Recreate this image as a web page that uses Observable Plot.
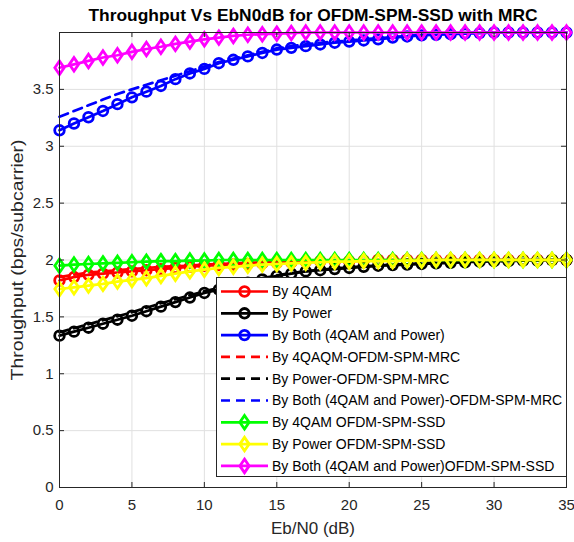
<!DOCTYPE html>
<html><head><meta charset="utf-8">
<script src="https://cdn.jsdelivr.net/npm/d3@7"></script>
<script src="https://cdn.jsdelivr.net/npm/@observablehq/plot@0.6"></script>
<style>
body{margin:0;background:#fff;}
#wrap{position:relative;width:574px;height:542px;font-family:"Liberation Sans",Arial,sans-serif;}
#legend{position:absolute;left:216px;top:277px;width:351px;height:200px;background:#fff;border:1px solid #262626;box-sizing:border-box;}
</style></head><body><div id="wrap"></div>
<script>
const ebn0 = [0,1,2,3,4,5,6,7,8,9,10,11,12,13,14,15,16,17,18,19,20,21,22,23,24,25,26,27,28,29,30,31,32,33,34,35];

const by4qam = [1.82,1.85,1.87,1.88,1.89,1.90,1.91,1.92,1.93,1.94,1.95,1.955,1.96,1.965,1.97,1.975,1.98,1.985,1.99,1.99,1.99,1.995,2,2,2,2,2,2,2,2,2,2,2,2,2,2];
const byPower = [1.335,1.37,1.405,1.44,1.475,1.51,1.55,1.59,1.63,1.67,1.71,1.74,1.77,1.80,1.83,1.86,1.88,1.90,1.91,1.92,1.93,1.94,1.95,1.955,1.96,1.965,1.97,1.975,1.98,1.985,1.99,1.99,1.995,1.995,2,2];
const byBoth = [3.14,3.20,3.255,3.31,3.37,3.43,3.48,3.53,3.59,3.64,3.68,3.73,3.76,3.79,3.82,3.85,3.865,3.88,3.895,3.91,3.92,3.93,3.94,3.955,3.965,3.975,3.98,3.985,3.99,3.995,4,4,4,4,4,4];
const by4qamMrc = [1.85,1.87,1.89,1.90,1.91,1.92,1.93,1.94,1.945,1.95,1.96,1.965,1.97,1.975,1.98,1.985,1.99,1.99,1.995,2,2,2,2,2,2,2,2,2,2,2,2,2,2,2,2,2];
const byPowerMrc = [1.365,1.40,1.435,1.47,1.505,1.54,1.58,1.62,1.655,1.69,1.725,1.755,1.785,1.815,1.84,1.865,1.885,1.90,1.915,1.925,1.935,1.945,1.95,1.96,1.965,1.97,1.975,1.98,1.985,1.99,1.99,1.995,2,2,2,2];
const byBothMrc = [3.26,3.31,3.36,3.41,3.46,3.50,3.54,3.58,3.62,3.66,3.70,3.74,3.77,3.80,3.83,3.86,3.88,3.895,3.91,3.92,3.93,3.94,3.95,3.96,3.97,3.98,3.985,3.99,3.995,4,4,4,4,4,4,4];
const by4qamSsd = [1.95,1.96,1.965,1.97,1.975,1.98,1.985,1.99,1.99,1.995,1.995,2,2,2,2,2,2,2,2,2,2,2,2,2,2,2,2,2,2,2,2,2,2,2,2,2];
const byPowerSsd = [1.745,1.76,1.775,1.79,1.81,1.825,1.84,1.86,1.88,1.90,1.915,1.93,1.94,1.95,1.96,1.965,1.97,1.975,1.98,1.985,1.985,1.99,1.99,1.99,1.995,1.995,2,2,2,2,2,2,2,2,2,2];
const byBothSsd = [3.69,3.72,3.75,3.78,3.80,3.83,3.855,3.875,3.90,3.92,3.94,3.955,3.97,3.98,3.985,3.99,3.995,4,4,4,4,4,4,4,4,4,4,4,4,4,4,4,4,4,4,4];

const seriesNames = ["By 4QAM","By Power","By Both (4QAM and Power)","By 4QAQM-OFDM-SPM-MRC","By Power-OFDM-SPM-MRC","By Both (4QAM and Power)-OFDM-SPM-MRC","By 4QAM OFDM-SPM-SSD","By Power OFDM-SPM-SSD","By Both (4QAM and Power)OFDM-SPM-SSD"];
const seriesValues = [by4qam, byPower, byBoth, by4qamMrc, byPowerMrc, byBothMrc, by4qamSsd, byPowerSsd, byBothSsd];
const seriesColors = ["#ff0000","#000000","#0000ff","#ff0000","#000000","#0000ff","#00ff00","#ffff00","#ff00ff"];
const seriesDash = [null,null,null,"9,6","9,6","9,6",null,null,null];
const seriesMarker = ["circle","circle","circle",null,null,null,"diamond","diamond","diamond"];

const xTicks = [0,5,10,15,20,25,30,35];
const yTicks = [0,0.5,1,1.5,2,2.5,3,3.5,4];
const yTickLabels = ["0","0.5","1","1.5","2","2.5","3","3.5",""];

const titleText = "Throughput Vs EbN0dB for OFDM-SPM-SSD with MRC";
const xLabel = "Eb/N0 (dB)";
const yLabel = "Throughput (bps/subcarrier)";

const W = 574, H = 542, mT = 32, mR = 8, mB = 55, mL = 59;
const plotH = H - mT - mB, plotW = W - mL - mR;
const axisColor = "#262626";
const LW = 2.7;
const MW = 2.8;
const RC = 4.8, RD = 4.9;

const tallDiamond = {
  draw(ctx, size) {
    const s = Math.sqrt(size / Math.PI);
    ctx.moveTo(0, -s * 1.38);
    ctx.lineTo(s * 0.95, 0);
    ctx.lineTo(0, s * 1.38);
    ctx.lineTo(-s * 0.95, 0);
    ctx.closePath();
  }
};

const marks = [
  Plot.gridX(xTicks, {stroke: "#e0e0e0", strokeOpacity: 1}),
  Plot.gridY(yTicks, {stroke: "#e0e0e0", strokeOpacity: 1}),
];
seriesNames.forEach((name, i) => {
  const data = ebn0.map((x, j) => ({x, y: seriesValues[i][j]}));
  marks.push(Plot.line(data, {x: "x", y: "y", stroke: seriesColors[i], strokeWidth: LW, strokeDasharray: seriesDash[i] || undefined}));
  if (seriesMarker[i]) {
    marks.push(Plot.dot(data, {x: "x", y: "y", symbol: seriesMarker[i] === "circle" ? "circle" : tallDiamond, r: seriesMarker[i] === "circle" ? RC : RD, fill: "none", stroke: seriesColors[i], strokeWidth: MW}));
  }
});
marks.push(
  Plot.frame({stroke: axisColor, strokeWidth: 1}),
  Plot.tickX(xTicks, {x: d => d, stroke: axisColor, insetTop: plotH - 5}),
  Plot.tickX(xTicks, {x: d => d, stroke: axisColor, insetBottom: plotH - 5}),
  Plot.tickY(yTicks, {y: d => d, stroke: axisColor, insetRight: plotW - 5}),
  Plot.tickY(yTicks, {y: d => d, stroke: axisColor, insetLeft: plotW - 5}),
  Plot.axisX(xTicks, {tickSize: 0, tickPadding: 12, fontSize: 15, color: axisColor, label: null}),
  Plot.axisY(yTicks, {tickSize: 0, tickPadding: 6, fontSize: 15, color: axisColor, label: null, tickFormat: d => yTickLabels[yTicks.indexOf(d)]}),
  Plot.text([titleText], {text: d => d, frameAnchor: "top", lineAnchor: "middle", dy: -17, fontSize: 17, fontWeight: "bold", fill: "#000"}),
  Plot.text([xLabel], {text: d => d, frameAnchor: "bottom", lineAnchor: "middle", dy: 41, fontSize: 16.5, fill: axisColor}),
  Plot.text([yLabel], {text: d => d, frameAnchor: "left", textAnchor: "middle", rotate: -90, dx: -42, fontSize: 16.5, fill: axisColor})
);

const chart = Plot.plot({
  width: W, height: H,
  marginTop: mT, marginRight: mR, marginBottom: mB, marginLeft: mL,
  style: {fontFamily: "'Liberation Sans', Arial, sans-serif", background: "#fff", overflow: "visible"},
  x: {domain: [0, 35]},
  y: {domain: [0, 4]},
  marks
});
const wrap = document.getElementById("wrap");
wrap.appendChild(chart);

// stretch labels to match the reference's text extents
chart.querySelectorAll("text").forEach(t => {
  if (t.textContent === yLabel) { t.setAttribute("textLength", 241); t.setAttribute("lengthAdjust", "spacingAndGlyphs"); }
  if (t.textContent === titleText) { t.setAttribute("textLength", 449); t.setAttribute("lengthAdjust", "spacingAndGlyphs"); }
  if (t.textContent === xLabel) { t.setAttribute("textLength", 84); t.setAttribute("lengthAdjust", "spacingAndGlyphs"); }
});

// legend
const leg = document.createElement("div");
leg.id = "legend";
const ns = "http://www.w3.org/2000/svg";
const svg = document.createElementNS(ns, "svg");
svg.setAttribute("width", 349); svg.setAttribute("height", 198);
seriesNames.forEach((name, i) => {
  const cy = 13.5 + i * 21.8;
  const line = document.createElementNS(ns, "line");
  line.setAttribute("x1", 4); line.setAttribute("x2", 51);
  line.setAttribute("y1", cy); line.setAttribute("y2", cy);
  line.setAttribute("stroke", seriesColors[i]); line.setAttribute("stroke-width", LW);
  if (seriesDash[i]) line.setAttribute("stroke-dasharray", seriesDash[i]);
  svg.appendChild(line);
  if (seriesMarker[i]) {
    const p = document.createElementNS(ns, "path");
    const sym = seriesMarker[i] === "circle" ? d3.symbolCircle : tallDiamond;
    const r = seriesMarker[i] === "circle" ? RC : RD;
    p.setAttribute("d", d3.symbol(sym, r * r * Math.PI)());
    p.setAttribute("transform", `translate(27.5,${cy})`);
    p.setAttribute("fill", "none"); p.setAttribute("stroke", seriesColors[i]); p.setAttribute("stroke-width", MW);
    svg.appendChild(p);
  }
  const t = document.createElementNS(ns, "text");
  t.setAttribute("x", 55); t.setAttribute("y", cy); t.setAttribute("dy", "0.35em");
  t.setAttribute("font-size", 14); t.setAttribute("fill", "#000");
  t.setAttribute("font-family", "'Liberation Sans', Arial, sans-serif");
  t.textContent = name;
  svg.appendChild(t);
});
leg.appendChild(svg);
wrap.appendChild(leg);
</script></body></html>
